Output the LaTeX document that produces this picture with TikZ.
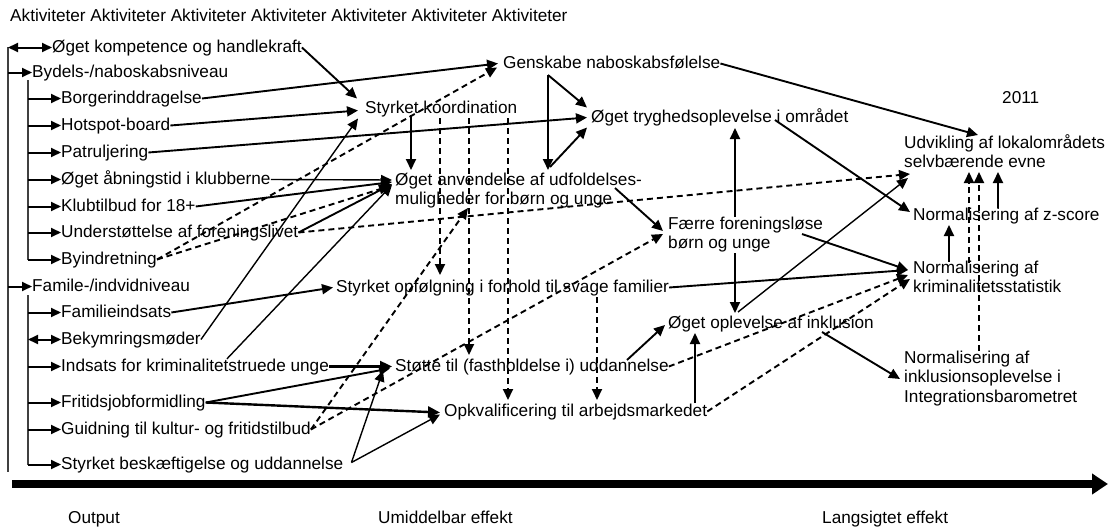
\documentclass[tikz,border=0pt]{standalone}
\usepackage{fontspec}
\setmainfont{Liberation Sans}
\usetikzlibrary{arrows.meta,calc}

\newcommand{\lblfont}{\fontsize{17.2}{19.5}\selectfont}

\tikzset{
  lbl/.style={inner sep=0pt, anchor=base west, text height=12pt, text depth=3pt, font=\lblfont},
  lbltwo/.style={inner sep=0pt, anchor=base west, align=left, font=\lblfont},
  link/.style={line width=1.9pt, -{Triangle[length=11pt,width=10pt]}},
  thinlink/.style={line width=1.4pt, -{Triangle[length=11pt,width=10pt]}},
  boldlink/.style={line width=2.4pt, -{Triangle[length=12pt,width=11pt]}},
  dashlink/.style={link, dash pattern=on 6pt off 4pt},
  branch/.style={line width=2pt, -{Triangle[length=10pt,width=9pt]}},
  twobranch/.style={branch, {Triangle[length=10pt,width=9pt]}-{Triangle[length=10pt,width=9pt]}},
  spine/.style={line width=1.3pt, black!75},
}

\begin{document}
\begin{tikzpicture}[x=1pt, y=-1pt]
\useasboundingbox (0,0) rectangle (1112,530);

% header
\node (akt) [lbl] at (10,21) {Aktiviteter Aktiviteter Aktiviteter Aktiviteter Aktiviteter Aktiviteter Aktiviteter};

% output (activities)
\node (kompetence) [lbl] at (52,52) {Øget kompetence og handlekraft};
\node (bydels) [lbl] at (32,77) {Bydels-/naboskabsniveau};
\node (borger) [lbl] at (61,103) {Borgerinddragelse};
\node (hotspot) [lbl] at (61,130) {Hotspot-board};
\node (patrulj) [lbl] at (61,157) {Patruljering};
\node (aabning) [lbl] at (61,184) {Øget åbningstid i klubberne};
\node (klub) [lbl] at (61,211) {Klubtilbud for 18+};
\node (forening) [lbl] at (61,237) {Understøttelse af foreningslivet};
\node (byindr) [lbl] at (61,264) {Byindretning};
\node (familie) [lbl] at (32,291) {Famile-/indvidniveau};
\node (famindsats) [lbl] at (61,317) {Familieindsats};
\node (bekym) [lbl] at (61,344) {Bekymringsmøder};
\node (indsats) [lbl] at (61,371) {Indsats for kriminalitetstruede unge};
\node (fritidsjob) [lbl] at (61,407) {Fritidsjobformidling};
\node (guidning) [lbl] at (61,434) {Guidning til kultur- og fritidstilbud};
\node (beskaeft) [lbl] at (61,469) {Styrket beskæftigelse og uddannelse};

% immediate effects (multi-line nodes sit on their last baseline)
\node (koord) [lbl] at (365,113) {Styrket koordination};
\node (genskabe) [lbl] at (503,68) {Genskabe naboskabsfølelse};
\node (tryghed) [lbl] at (591,122) {Øget tryghedsoplevelse i området};
\node (anvend) [lbltwo] at (395,204.5) {Øget anvendelse af udfoldelses-\\muligheder for børn og unge};
\node (faerre) [lbltwo] at (668,248.5) {Færre foreningsløse\\børn og unge};
\node (opfoelg) [lbl] at (336,292) {Styrket opfølgning i forhold til svage familier};
\node (inklusion) [lbl] at (668,328) {Øget oplevelse af inklusion};
\node (stoette) [lbl] at (395,371) {Støtte til (fastholdelse i) uddannelse};
\node (opkval) [lbl] at (444,416) {Opkvalificering til arbejdsmarkedet};

% long-term effects
\node (aar) [lbl] at (1002,103) {2011};
\node (udvikling) [lbltwo] at (904,167.5) {Udvikling af lokalområdets\\selvbærende evne};
\node (zscore) [lbl] at (913,220) {Normalisering af z-score};
\node (krimstat) [lbltwo] at (913,292.5) {Normalisering af\\kriminalitetsstatistik};
\node (inklnorm) [lbltwo] at (904,402) {Normalisering af\\inklusionsoplevelse i\\Integrationsbarometret};

% time axis
\node (output) [lbl] at (68,523) {Output};
\node (umiddelbar) [lbl] at (378,523) {Umiddelbar effekt};
\node (langsigtet) [lbl] at (822,523) {Langsigtet effekt};
\coordinate (tstart) at (12,484);
\coordinate (tend) at (1108,484);
\draw[line width=8pt, -{Triangle[length=16pt,width=20pt]}] (tstart) -- (tend);

% tree of activities
\coordinate (mainspine) at (8,47);
\coordinate (mainend) at (8,472);
\coordinate (subone) at (28,80);
\coordinate (subtwo) at (28,295);
\draw[spine] (mainspine) -- (mainend);
\draw[spine] (subone) -- (subone |- byindr.west);
\draw[spine] (subtwo) -- (subtwo |- beskaeft.west);
\draw[twobranch] (mainspine |- kompetence.west) -- (kompetence.west);
\draw[branch] (mainspine |- bydels.west) -- (bydels.west);
\draw[branch] (mainspine |- familie.west) -- (familie.west);
\draw[branch] (subone |- borger.west) -- (borger.west);
\draw[branch] (subone |- hotspot.west) -- (hotspot.west);
\draw[branch] (subone |- patrulj.west) -- (patrulj.west);
\draw[branch] (subone |- aabning.west) -- (aabning.west);
\draw[branch] (subone |- klub.west) -- (klub.west);
\draw[branch] (subone |- forening.west) -- (forening.west);
\draw[branch] (subone |- byindr.west) -- (byindr.west);
\draw[branch] (subtwo |- famindsats.west) -- (famindsats.west);
\draw[twobranch] (subtwo |- bekym.west) -- (bekym.west);
\draw[branch] (subtwo |- indsats.west) -- (indsats.west);
\draw[branch] (subtwo |- fritidsjob.west) -- (fritidsjob.west);
\draw[branch] (subtwo |- guidning.west) -- (guidning.west);
\draw[branch] (subtwo |- beskaeft.west) -- (beskaeft.west);

% activities -> immediate effects
\draw[link] (kompetence.east) -- ($(koord.west)+(-8,-10)$);
\draw[link] (borger.east) -- ($(genskabe.west)+(-5,0)$);
\draw[link] (hotspot.east) -- ($(koord.west)+(-7,2)$);
\draw[link] (patrulj.east) -- ($(tryghed.west)+(-4,0)$);
\draw[thinlink] (aabning.east) -- ($(anvend.base west)+(-3,-24.5)$);
\draw[link] (klub.east) -- ($(anvend.base west)+(-3,-22.5)$);
\draw[link] (forening.east) -- ($(anvend.base west)+(-3,-20.5)$);
\draw[dashlink] (forening.east) -- ($(udvikling.base west)+(6,6.5)$);
\draw[dashlink] (byindr.east) -- ($(genskabe.west)+(-6,4)$);
\draw[dashlink] (byindr.east) -- ($(anvend.base west)+(-5,-18.5)$);
\draw[link] (famindsats.east) -- ($(opfoelg.west)+(-3,0)$);
\draw[thinlink] (bekym.east) -- ($(koord.west)+(-7,10)$);
\draw[thinlink] ($(indsats.north west)+(166,0)$) -- ($(anvend.base west)+(-3,-19.5)$);
\draw[boldlink] (indsats.east) -- ($(stoette.west)+(-3,0)$);
\draw[link] (fritidsjob.east) -- ($(stoette.west)+(-5,2)$);
\draw[boldlink] (fritidsjob.east) -- ($(opkval.west)+(-4,1)$);
\draw[dashlink] (guidning.east) -- ($(anvend.base west)+(73,3.5)$);
\draw[dashlink] (guidning.east) -- ($(faerre.base west)+(-5,-14.5)$);
\draw[thinlink] ($(beskaeft.east)+(8,-2)$) -- ($(stoette.west)+(-12,4)$);
\draw[thinlink] ($(beskaeft.east)+(8,-2)$) -- ($(opkval.west)+(-4,3)$);

% among immediate effects
\draw[link] ($(genskabe.base west)+(45,7)$) -- ($(tryghed.west)+(-4,-10)$);
\draw[link] ($(genskabe.base west)+(45,7)$) -- ($(anvend.base west)+(153,-34.5)$);
\draw[link] ($(anvend.base west)+(155,-37.5)$) -- ($(tryghed.west)+(-4,10)$);
\draw[link] ($(koord.base west)+(46,2)$) -- ($(anvend.base west)+(16,-34.5)$);
\draw[dashlink] ($(koord.base west)+(75,5)$) -- ($(opfoelg.base west)+(104,-17)$);
\draw[dashlink] ($(koord.base west)+(104,5)$) -- ($(stoette.base west)+(74,-16)$);
\draw[dashlink] ($(koord.base west)+(143,5)$) -- ($(opkval.base west)+(64,-16)$);
\draw[dashlink] ($(opfoelg.base west)+(261,5)$) -- ($(opkval.base west)+(153,-16)$);
\draw[link] ($(anvend.base west)+(220,-16.5)$) -- ($(faerre.base west)+(-5,-17.5)$);
\draw[link] ($(faerre.base west)+(67,-31.5)$) -- ($(tryghed.base west)+(144,6)$);
\draw[link] ($(faerre.base west)+(67,4.5)$) -- ($(inklusion.base west)+(67,-15)$);
\draw[link] ($(stoette.base west)+(232,-11)$) -- ($(inklusion.base west)+(-3,-3)$);
\draw[link] ($(opkval.base west)+(251,-13)$) -- ($(inklusion.base west)+(27,5)$);

% immediate -> long-term effects
\draw[link] (genskabe.east) -- ($(udvikling.base west)+(74,-32.5)$);
\draw[link] ($(tryghed.base west)+(184,-2)$) -- ($(zscore.base west)+(-3,-8)$);
\draw[link] (opfoelg.east) -- ($(krimstat.base west)+(-5,-22.5)$);
\draw[link] ($(faerre.base west)+(134,-14.5)$) -- ($(krimstat.base west)+(-5,-22.5)$);
\draw[thinlink] ($(inklusion.base west)+(70,-16)$) -- ($(udvikling.base west)+(4,10.5)$);
\draw[link] ($(inklusion.base west)+(154,4)$) -- ($(inklnorm.base west)+(-4,-23)$);
\draw[dashlink] (stoette.east) -- ($(krimstat.base west)+(-5,-17.5)$);
\draw[dashlink] (opkval.east) -- ($(krimstat.base west)+(-3,-13.5)$);

% among long-term effects
\draw[link] ($(zscore.base west)+(85,-12)$) -- ($(udvikling.base west)+(94,4.5)$);
\draw[link] ($(krimstat.base west)+(36,-30.5)$) -- ($(zscore.base west)+(36,5)$);
\draw[dashlink] ($(krimstat.base west)+(56,-29.5)$) -- ($(udvikling.base west)+(65,4.5)$);
\draw[dashlink] ($(inklnorm.base west)+(75,-51)$) -- ($(udvikling.base west)+(75,4.5)$);
\end{tikzpicture}
\end{document}
